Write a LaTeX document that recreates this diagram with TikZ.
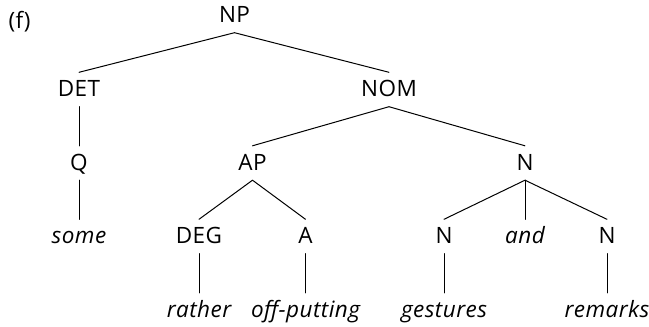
\documentclass[tikz,border=0pt]{standalone}
\usepackage{fontspec}
\setmainfont[LetterSpace=2]{Open Sans}

\begin{document}
\begin{tikzpicture}[x=1pt,y=-1pt,line cap=round,line join=round,
    cat/.style={anchor=base,inner sep=0pt,text height=24pt,text depth=10pt,
      font=\fontsize{22.5}{26}\selectfont},
    word/.style={cat,font=\fontsize{22.5}{26}\selectfont\itshape},
    branch/.style={line width=1pt}]
  \useasboundingbox (0,0) rectangle (649,327);
  \node[anchor=base,inner sep=0pt,font=\fontsize{22.5}{26}\selectfont] (label) at (19.5,28) {(f)};
  % categories
  \node[cat] (np) at (234.5,22.5) {NP};
  \node[cat] (det) at (79,96.5) {DET};
  \node[cat] (nom) at (389,96.5) {NOM};
  \node[cat] (q) at (79,170) {Q};
  \node[cat] (ap) at (252.5,170) {AP};
  \node[cat] (n) at (525,170) {N};
  \node[cat] (deg) at (199,243.5) {DEG};
  \node[cat] (a) at (305.5,243.5) {A};
  \node[cat] (nleft) at (444,243.5) {N};
  \node[word] (and) at (525,243.5) {and};
  \node[cat] (nright) at (607,243.5) {N};
  % words
  \node[word] (some) at (79,243.5) {some};
  \node[word] (rather) at (199,317) {rather};
  \node[word] (offputting) at (305.5,317) {off-putting};
  \node[word] (gestures) at (444,317) {gestures};
  \node[word] (remarks) at (607,317) {remarks};
  % branches
  \draw[branch] (np.south) -- (det.north);
  \draw[branch] (np.south) -- (nom.north);
  \draw[branch] (det.south) -- (q.north);
  \draw[branch] (q.south) -- (some.north);
  \draw[branch] (nom.south) -- (ap.north);
  \draw[branch] (nom.south) -- (n.north);
  \draw[branch] (ap.south) -- (deg.north);
  \draw[branch] (ap.south) -- (a.north);
  \draw[branch] (deg.south) -- (rather.north);
  \draw[branch] (a.south) -- (offputting.north);
  \draw[branch] (n.south) -- (nleft.north);
  \draw[branch] (n.south) -- (and.north);
  \draw[branch] (n.south) -- (nright.north);
  \draw[branch] (nleft.south) -- (gestures.north);
  \draw[branch] (nright.south) -- (remarks.north);
\end{tikzpicture}
\end{document}
